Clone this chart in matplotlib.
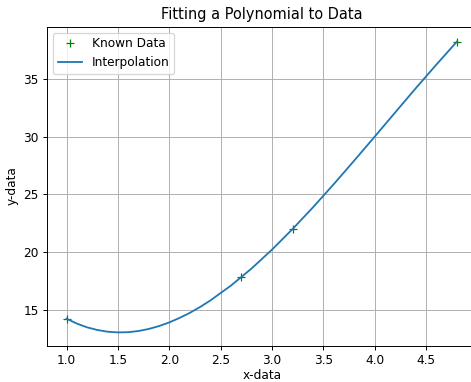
import matplotlib
matplotlib.use("Agg")
import matplotlib.pyplot as plt

# Known data points
x_known = [1.0, 2.7, 3.2, 4.8]
y_known = [14.2, 17.8, 22.0, 38.3]

# Interpolation curve values
x_curve = [1.0, 1.1, 1.2, 1.3, 1.4, 1.5, 1.6, 1.7, 1.8, 1.9, 2.0, 2.1, 2.2, 2.3,
           2.4, 2.6, 2.8, 3.0, 3.2, 3.4, 3.6, 3.8, 4.0, 4.2, 4.4, 4.6, 4.8]
y_curve = [14.2, 13.78, 13.45, 13.22, 13.07, 13.01, 13.03, 13.13, 13.31, 13.56,
           13.88, 14.27, 14.71, 15.22, 15.79, 17.08, 18.56, 20.21, 22.0, 23.90,
           25.89, 27.95, 30.04, 32.15, 34.25, 36.30, 38.3]

DPI = 87
fig = plt.figure(figsize=(472 / DPI, 382 / DPI), dpi=DPI)
ax = fig.add_axes([0.0996, 0.0955, 0.910, 0.835])

ax.plot(x_known, y_known, 'g+', label='Known Data')
ax.plot(x_curve, y_curve, color='C0', label='Interpolation')
ax.set_xlim(0.81, 4.99)
ax.set_ylim(11.87, 39.6)
ax.grid(True)
ax.set_title('Fitting a Polynomial to Data')
ax.set_xlabel('x-data', labelpad=2)
ax.set_ylabel('y-data')
ax.legend(loc='upper left')

fig.savefig('out.png', dpi=DPI)
